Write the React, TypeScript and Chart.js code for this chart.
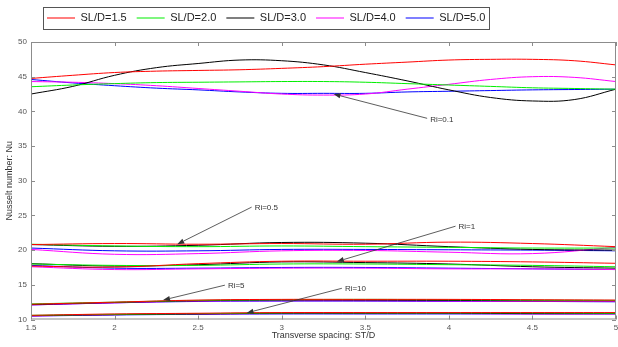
import React, { useEffect, useRef } from 'react';
import { Chart, registerables } from 'chart.js';

Chart.register(...registerables);

// ---------- data ----------
const xFine = [1.5, 1.75, 2, 2.25, 2.5, 2.75, 3, 3.25, 3.5, 3.75, 4, 4.25, 4.5, 4.75, 5];
const xCoarse = [1.5, 2, 2.5, 3, 3.5, 4, 4.5, 5];

const seriesLabels = ['SL/D=1.5', 'SL/D=2.0', 'SL/D=3.0', 'SL/D=4.0', 'SL/D=5.0'];
const seriesColors = ['#ff0000', '#00ee00', '#000000', '#ff00ff', '#0000ff'];

// Ri = 0.1 (on xFine)
const ri01_sl15 = [44.75, 45.2, 45.6, 45.8, 45.9, 46.0, 46.2, 46.45, 46.8, 47.1, 47.4, 47.5, 47.5, 47.3, 46.7];
const ri01_sl20 = [43.55, 43.8, 44.0, 44.15, 44.2, 44.25, 44.3, 44.3, 44.2, 44.0, 43.8, 43.6, 43.4, 43.3, 43.2];
const ri01_sl30 = [42.5, 43.6, 45.2, 46.3, 46.9, 47.4, 47.3, 46.7, 45.6, 44.4, 43.1, 42.0, 41.5, 41.7, 43.2];
const ri01_sl40 = [44.3, 44.2, 44.0, 43.7, 43.3, 42.9, 42.5, 42.35, 42.5, 43.2, 43.9, 44.6, 45.0, 44.9, 44.3];
const ri01_sl50 = [44.6, 44.1, 43.7, 43.35, 43.1, 42.8, 42.6, 42.6, 42.6, 42.8, 42.9, 43.0, 43.1, 43.15, 43.2];

// Ri = 0.5 (on xCoarse)
const ri05_sl15 = [20.8, 20.95, 20.85, 20.95, 20.85, 21.15, 20.95, 20.5];
const ri05_sl20 = [20.85, 20.6, 20.5, 20.6, 20.5, 20.4, 20.3, 20.3];
const ri05_sl30 = [20.8, 20.55, 20.7, 21.1, 21.0, 20.5, 20.1, 20.0];
const ri05_sl40 = [20.1, 19.4, 19.5, 19.9, 19.95, 19.7, 19.5, 20.4];
const ri05_sl50 = [20.3, 19.9, 19.9, 20.1, 20.1, 20.05, 20.0, 19.9];

// Ri = 1
const ri1_sl15 = [17.7, 17.55, 18.05, 18.4, 18.4, 18.4, 18.3, 18.1];
const ri1_sl20 = [18.0, 17.8, 17.8, 18.0, 18.0, 17.9, 17.8, 17.6];
const ri1_sl30 = [18.05, 17.7, 17.9, 18.3, 18.2, 18.0, 17.6, 17.4];
const ri1_sl40 = [17.6, 17.2, 17.3, 17.4, 17.4, 17.3, 17.3, 17.2];
const ri1_sl50 = [17.8, 17.4, 17.4, 17.5, 17.5, 17.4, 17.3, 17.2];

// Ri = 5
const ri5_sl15 = [12.2, 12.5, 12.8, 12.9, 12.9, 12.9, 12.85, 12.8];
const ri5_sl20 = [12.25, 12.5, 12.75, 12.85, 12.9, 12.85, 12.8, 12.75];
const ri5_sl30 = [12.15, 12.45, 12.7, 12.8, 12.8, 12.75, 12.7, 12.7];
const ri5_sl40 = [12.1, 12.4, 12.65, 12.7, 12.7, 12.65, 12.6, 12.6];
const ri5_sl50 = [12.1, 12.4, 12.6, 12.65, 12.65, 12.6, 12.6, 12.55];

// Ri = 10
const ri10_sl15 = [10.6, 10.8, 10.9, 11.0, 11.0, 11.0, 11.0, 11.0];
const ri10_sl20 = [10.6, 10.75, 10.85, 10.95, 10.95, 10.95, 10.95, 10.9];
const ri10_sl30 = [10.55, 10.7, 10.8, 10.9, 10.9, 10.9, 10.85, 10.85];
const ri10_sl40 = [10.5, 10.7, 10.8, 10.85, 10.85, 10.85, 10.8, 10.8];
const ri10_sl50 = [10.5, 10.65, 10.75, 10.8, 10.8, 10.8, 10.8, 10.8];

const groups = [
  { x: xFine, series: [ri01_sl15, ri01_sl20, ri01_sl30, ri01_sl40, ri01_sl50] },
  { x: xCoarse, series: [ri05_sl15, ri05_sl20, ri05_sl30, ri05_sl40, ri05_sl50] },
  { x: xCoarse, series: [ri1_sl15, ri1_sl20, ri1_sl30, ri1_sl40, ri1_sl50] },
  { x: xCoarse, series: [ri5_sl15, ri5_sl20, ri5_sl30, ri5_sl40, ri5_sl50] },
  { x: xCoarse, series: [ri10_sl15, ri10_sl20, ri10_sl30, ri10_sl40, ri10_sl50] },
];

// annotations (data coordinates)
const riLabels = ['Ri=0.1', 'Ri=0.5', 'Ri=1', 'Ri=5', 'Ri=10'];
const arrowTipX = [3.31, 2.375, 3.33, 2.29, 2.79];
const arrowTipY = [42.5, 20.85, 18.35, 12.8, 10.95];
const labelX = [3.87, 2.82, 4.04, 2.66, 3.36];
const labelY = [39.0, 26.2, 23.45, 14.95, 14.5];

const xTicksMin = 1.5;
const xTicksMax = 5;
const yTicksMin = 10;
const yTicksMax = 50;

const FONT = "'Liberation Sans', Arial, Helvetica, sans-serif";

export default function App() {
  const canvasRef = useRef<HTMLCanvasElement | null>(null);

  useEffect(() => {
    const canvas = canvasRef.current;
    if (!canvas) return;

    const datasets: any[] = [];
    groups.forEach((g) => {
      g.series.forEach((vals, si) => {
        datasets.push({
          label: seriesLabels[si],
          data: vals.map((v, i) => ({ x: g.x[i], y: v })),
          borderColor: seriesColors[si],
          backgroundColor: seriesColors[si],
          borderWidth: 1,
          pointRadius: 0,
          tension: 0.4,
          fill: false,
        });
      });
    });

    const legendShift = {
      id: 'legendShift',
      afterLayout(chart: any) {
        const lg = chart.legend;
        if (lg) {
          lg.left += 6;
          lg.right += 6;
        }
      },
    };

    const decor = {
      id: 'decor',
      afterDraw(chart: any) {
        const { ctx, chartArea: a, scales } = chart;
        const xs = scales.x;
        const ys = scales.y;
        ctx.save();
        // frame
        ctx.strokeStyle = '#8c8c8c';
        ctx.lineWidth = 1;
        ctx.strokeRect(a.left + 0.5, a.top + 0.5, a.right - a.left - 1, a.bottom - a.top - 1);
        ctx.beginPath();
        xs.ticks.forEach((t: any) => {
          const px = Math.round(xs.getPixelForValue(t.value)) + 0.5;
          ctx.moveTo(px, a.bottom);
          ctx.lineTo(px, a.bottom - 4);
          ctx.moveTo(px, a.top);
          ctx.lineTo(px, a.top + 4);
        });
        ys.ticks.forEach((t: any) => {
          const py = Math.round(ys.getPixelForValue(t.value)) + 0.5;
          ctx.moveTo(a.left, py);
          ctx.lineTo(a.left + 4, py);
          ctx.moveTo(a.right, py);
          ctx.lineTo(a.right - 4, py);
        });
        ctx.stroke();

        // annotations
        ctx.strokeStyle = '#333';
        ctx.fillStyle = '#333';
        ctx.lineWidth = 0.8;
        ctx.font = `8px ${FONT}`;
        ctx.textBaseline = 'middle';
        ctx.textAlign = 'left';
        riLabels.forEach((lab, i) => {
          const tx = xs.getPixelForValue(arrowTipX[i]);
          const ty = ys.getPixelForValue(arrowTipY[i]);
          const lx = xs.getPixelForValue(labelX[i]);
          const ly = ys.getPixelForValue(labelY[i]);
          const ang = Math.atan2(ty - ly, tx - lx);
          const headLen = 7;
          const headW = 2.6;
          const bx = tx - headLen * Math.cos(ang);
          const by = ty - headLen * Math.sin(ang);
          ctx.beginPath();
          ctx.moveTo(lx, ly);
          ctx.lineTo(bx, by);
          ctx.stroke();
          ctx.beginPath();
          ctx.moveTo(tx, ty);
          ctx.lineTo(bx + headW * Math.sin(ang), by - headW * Math.cos(ang));
          ctx.lineTo(bx - headW * Math.sin(ang), by + headW * Math.cos(ang));
          ctx.closePath();
          ctx.fill();
          ctx.fillText(lab, lx + 3, ly + 1);
        });

        // legend border
        const lg = chart.legend;
        if (lg && lg.legendHitBoxes && lg.legendHitBoxes.length) {
          const hb = lg.legendHitBoxes;
          const first = hb[0];
          const last = hb[hb.length - 1];
          const l = first.left - 4;
          const r = last.left + last.width + 4;
          const t = first.top - 5.5;
          const b = first.top + first.height + 5.5;
          ctx.strokeStyle = '#555';
          ctx.lineWidth = 1;
          ctx.strokeRect(Math.round(l) + 0.5, Math.round(t) + 0.5, Math.round(r - l), Math.round(b - t));
        }
        ctx.restore();
      },
    };

    const chart = new Chart(canvas, {
      type: 'line',
      data: { datasets },
      options: {
        responsive: false,
        animation: false,
        events: [],
        layout: { padding: { top: 2.5, right: 2, left: 0, bottom: 0 } },
        plugins: {
          tooltip: { enabled: false },
          legend: {
            display: true,
            position: 'top',
            align: 'start',
            fullSize: false,
            labels: {
              font: { family: FONT, size: 11 },
              color: '#222',
              boxWidth: 28,
              boxHeight: 1,
              padding: 10,
              filter: (item: any) => item.datasetIndex < 5,
              generateLabels: (chart: any) =>
                chart.data.datasets.map((ds: any, i: number) => ({
                  text: ds.label,
                  fillStyle: ds.borderColor,
                  strokeStyle: ds.borderColor,
                  lineWidth: 0,
                  hidden: false,
                  datasetIndex: i,
                  fontColor: '#222',
                })),
            },
          },
        },
        scales: {
          x: {
            type: 'linear',
            position: 'bottom',
            min: xTicksMin,
            max: xTicksMax,
            grid: { display: false, drawTicks: false },
            border: { display: false },
            ticks: {
              stepSize: 0.5,
              padding: 3,
              color: '#555',
              font: { family: FONT, size: 8 },
              maxRotation: 0,
              callback: (v: any) => String(Number(v)),
            },
            title: {
              display: true,
              text: 'Transverse spacing: ST/D',
              color: '#333',
              font: { family: FONT, size: 9 },
              padding: { top: 0, bottom: 6 },
            },
            afterFit: (s: any) => {
              s.height = 27.5;
              s.paddingRight = 0;
            },
          },
          xTop: {
            type: 'linear',
            position: 'top',
            min: xTicksMin,
            max: xTicksMax,
            grid: { display: false, drawTicks: false },
            border: { display: false },
            ticks: { display: false },
            afterFit: (s: any) => {
              s.height = 8.5;
              s.paddingRight = 0;
            },
          },
          y: {
            type: 'linear',
            min: yTicksMin,
            max: yTicksMax,
            grid: { display: false, drawTicks: false },
            border: { display: false },
            ticks: {
              stepSize: 5,
              padding: 4,
              color: '#555',
              font: { family: FONT, size: 8 },
            },
            title: {
              display: true,
              text: 'Nusselt number: Nu',
              color: '#333',
              font: { family: FONT, size: 9 },
              padding: { top: 4, bottom: 0 },
            },
            afterFit: (s: any) => {
              s.width = 31;
            },
          },
        },
      } as any,
      plugins: [legendShift, decor],
    });

    return () => {
      chart.destroy();
    };
  }, []);

  return (
    <div style={{ position: 'absolute', left: 0, top: 0, width: 618, height: 347, background: '#fff' }}>
      <canvas ref={canvasRef} width={618} height={347} style={{ display: 'block' }} />
    </div>
  );
}
